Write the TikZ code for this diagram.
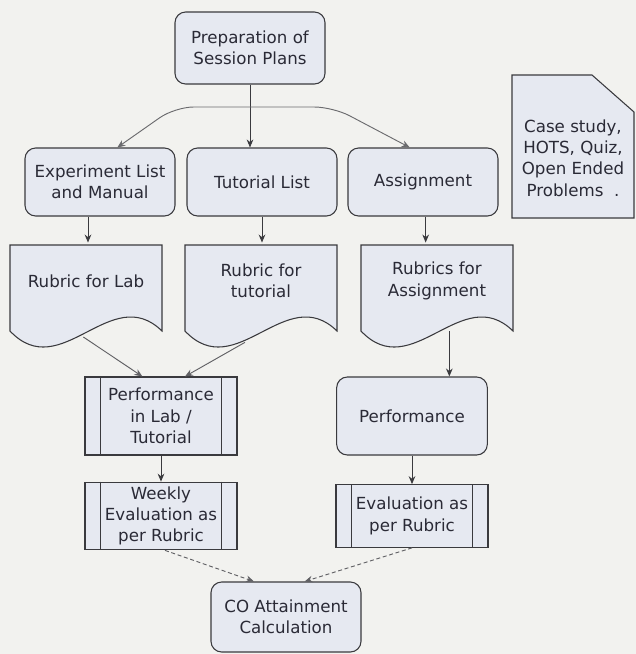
\documentclass[tikz,border=0pt]{standalone}
\usepackage{fontspec}
\setmainfont{DejaVu Sans}
\usetikzlibrary{arrows.meta}
\definecolor{boxfill}{HTML}{E6E9F1}
\definecolor{edge}{HTML}{3A3A3E}
\definecolor{ink}{HTML}{2A2A36}
\definecolor{paper}{HTML}{F2F2EF}

% document shape with a wavy bottom: name, x centre, y top, text
\newcommand{\rubricdoc}[4]{%
  \draw[line width=0.8pt, draw=edge, fill=boxfill] (#2-76,#3) -- (#2+76,#3) -- (#2+76,#3+86)
    .. controls (#2+25,#3+36) and (#2-25,#3+140) .. (#2-76,#3+86) -- cycle;
  \node[txt] (#1) at (#2,#3+36) {#4};
  \coordinate (#1 bot) at (#2,#3+92);
}

\begin{document}
\begin{tikzpicture}[x=0.75pt, y=-0.75pt,
    txt/.style={align=center, text=ink, font=\fontsize{12.5}{16}\selectfont},
    box/.style={txt, draw=edge, fill=boxfill, line width=0.8pt, rounded corners=8pt,
                minimum width=112.5pt},
    proc/.style={txt, draw=edge, fill=boxfill, line width=0.8pt, minimum width=114pt,
                 minimum height=47pt},
    arr/.style={-{Stealth[length=6pt,width=5pt]}, draw=edge, line width=0.7pt}]
  \useasboundingbox (0,0) rectangle (636,654);
  \fill[paper] (0,0) rectangle (636,654);

  \node [box, minimum height=54pt] (prep) at (250,48) {Preparation of\\Session Plans};
  \node [box, minimum height=51pt] (expl) at (100,182) {Experiment List\\and Manual};
  \node [box, minimum height=51pt] (tutl) at (262,182) {Tutorial List};
  \node [box, minimum height=51pt] (asgn) at (423,182) {Assignment};

  % note with folded corner
  \draw [line width=0.8pt, draw=edge, fill=boxfill] (512,75) -- (592,75) -- (634,112)
        -- (634,218) -- (512,218) -- cycle;
  \node [txt] (case) at (573,158) {Case study,\\HOTS, Quiz,\\Open Ended\\Problems~~.};

  \rubricdoc{rlab}{86}{245}{Rubric for Lab}
  \rubricdoc{rtut}{261}{245}{Rubric for\\tutorial}
  \rubricdoc{rasg}{437}{245}{Rubrics for\\Assignment}

  \node [proc, minimum height=58.5pt] (perflab) at (161,416) {Performance\\in Lab /\\Tutorial};
  \node [box, minimum height=58.5pt, minimum width=113pt] (perf) at (412,416) {Performance};
  \node [proc] (weekly) at (161,516) {Weekly\\Evaluation as\\per Rubric};
  \node [proc] (eval) at (412,516) {Evaluation as\\per Rubric};
  \node [box, minimum height=52.5pt] (co) at (286,617) {CO Attainment\\Calculation};

  \foreach \n in {perflab, weekly, eval}{
    \draw [draw=edge, line width=0.8pt] ([xshift=12pt]\n.north west) -- ([xshift=12pt]\n.south west);
    \draw [draw=edge, line width=0.8pt] ([xshift=-12pt]\n.north east) -- ([xshift=-12pt]\n.south east);
  }

  % split from the session plans
  \coordinate (bl) at (175,107);
  \coordinate (br) at (333,107);
  \draw [arr] (prep.south) -- (prep.south |- tutl.north);
  \draw [arr, {Stealth[length=6pt,width=5pt]}-{Stealth[length=6pt,width=5pt]}, draw=edge!75,
         rounded corners=14pt] ([xshift=13pt]expl.north) -- (bl) -- (br) -- ([xshift=-10pt]asgn.north);

  \draw [arr] ([xshift=-9pt]expl.south) -- ++(0,26);
  \draw [arr] (tutl.south) -- ++(0,26);
  \draw [arr] ([xshift=2pt]asgn.south) -- ++(0,26);

  \draw [arr, draw=edge!80] ([xshift=-2pt]rlab bot) -- ([xshift=-14pt]perflab.north);
  \draw [arr, draw=edge!80] ([xshift=-12pt,yshift=-4pt]rtut bot) -- ([xshift=18pt]perflab.north);
  \coordinate (perftop) at ([xshift=28pt]perf.north);
  \draw [arr] (perftop |- rasg bot) ++(0,-6) -- (perftop);

  \draw [arr] (perflab.south) -- (weekly.north);
  \draw [arr] (perf.south) -- (eval.north);

  \draw [arr, densely dashed, draw=edge!80] ([xshift=3pt]weekly.south) -- ([xshift=-24pt]co.north);
  \draw [arr, densely dashed, draw=edge!80] (eval.south) -- ([xshift=14pt]co.north);
\end{tikzpicture}
\end{document}
